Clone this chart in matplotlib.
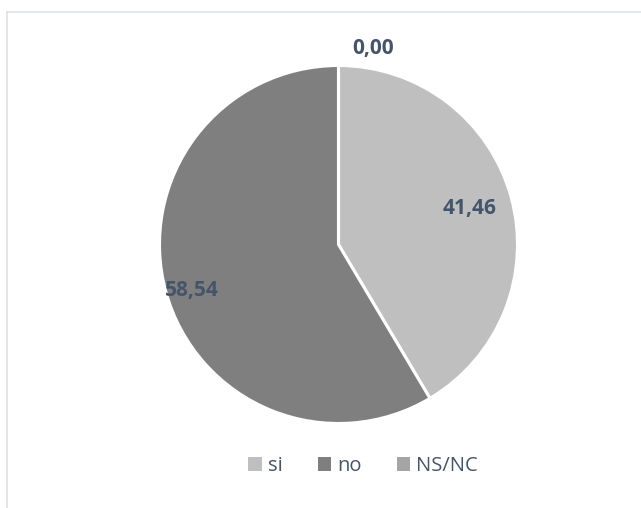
import numpy as np
import matplotlib
matplotlib.use("Agg")
import matplotlib.pyplot as plt
from matplotlib.lines import Line2D
from matplotlib.patches import Patch

# datos del gráfico
categorias = ["si", "no", "NS/NC"]
valores = [41.46, 58.54, 0.00]
colores = ["#BFBFBF", "#7F7F7F", "#A5A5A5"]

W, H = 641, 508
fig = plt.figure(figsize=(W / 100, H / 100), dpi=100)
ax = fig.add_axes([0, 0, 1, 1])

cx, cy, r = 338.5, H - 244.5, 179
wedges, _ = ax.pie(valores, colors=colores, startangle=90, counterclock=False,
                   center=(cx, cy), radius=r,
                   wedgeprops=dict(edgecolor="white", linewidth=2.2))
# pie() fija sus propios límites, hay que ponerlos después
ax.set_xlim(0, W)
ax.set_ylim(0, H)
ax.set_aspect("equal")
ax.axis("off")

# marco gris claro (solo borde superior e izquierdo visibles)
fig.add_artist(Line2D([6.5 / W, 6.5 / W], [0, 1 - 11.5 / H], transform=fig.transFigure,
                      color="#DDE1E6", lw=1.2))
fig.add_artist(Line2D([6.5 / W, 1], [1 - 11.5 / H, 1 - 11.5 / H], transform=fig.transFigure,
                      color="#DDE1E6", lw=1.2))

# etiquetas de datos
dist = [0.76, 0.86, 1.11]
desv = [0, 2, -10]
color_txt = "#44546A"
for w, v, d, o in zip(wedges, valores, dist, desv):
    ang = np.deg2rad((w.theta1 + w.theta2) / 2 + o)
    x = cx + d * r * np.cos(ang)
    y = cy + d * r * np.sin(ang)
    ax.text(x, y, f"{v:.2f}".replace(".", ","), ha="center", va="center",
            fontsize=15, fontweight="bold", color=color_txt, family="Open Sans")

handles = [Patch(facecolor=c, edgecolor="none") for c in colores]
leg = ax.legend(handles, categorias, loc="center", bbox_to_anchor=(363 / W, 1 - 466 / H),
                ncol=3, frameon=False, handlelength=0.68, handleheight=0.68,
                handletextpad=0.28, columnspacing=1.75,
                prop=dict(family="Open Sans", size=14.5))
for t in leg.get_texts():
    t.set_color(color_txt)

fig.savefig("out.png", dpi=100)
